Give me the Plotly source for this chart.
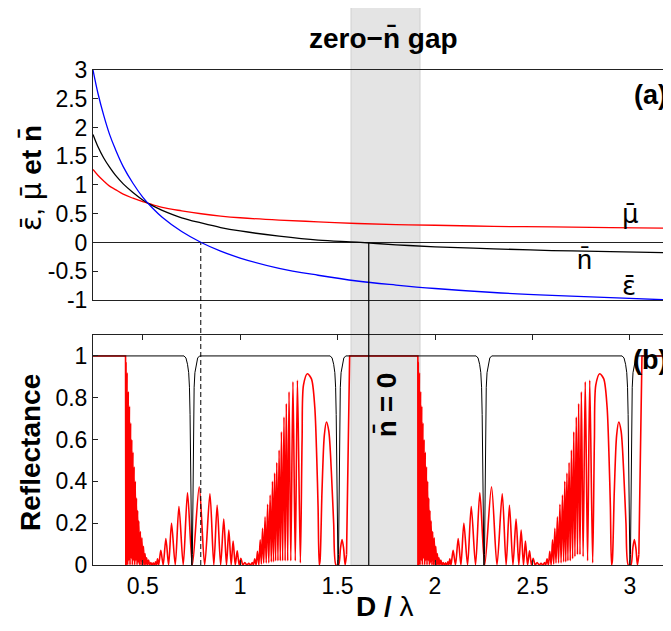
import plotly.graph_objects as go

# ---------------- data ----------------
x_top = [0.245, 0.27, 0.30, 0.33, 0.36, 0.40, 0.45, 0.50, 0.55, 0.60, 0.70, 0.80, 0.90, 1.00,
         1.20, 1.40, 1.60, 1.80, 2.00, 2.30, 2.60, 2.90, 3.21]
eps_bar = [3.00, 2.60, 2.21, 1.88, 1.62, 1.32, 1.03, 0.79, 0.60, 0.44, 0.19, 0.00, -0.15, -0.27,
           -0.45, -0.57, -0.67, -0.74, -0.80, -0.87, -0.92, -0.96, -1.00]
mu_bar = [1.27, 1.17, 1.07, 0.98, 0.92, 0.84, 0.77, 0.71, 0.66, 0.61, 0.55, 0.50, 0.46, 0.43,
          0.39, 0.36, 0.33, 0.31, 0.30, 0.28, 0.27, 0.26, 0.25]
n_bar = [1.88, 1.67, 1.47, 1.31, 1.17, 1.02, 0.87, 0.74, 0.64, 0.56, 0.43, 0.34, 0.26, 0.20,
         0.11, 0.04, 0.005, -0.04, -0.075, -0.11, -0.14, -0.16, -0.18]

# red reflectance: total-reflection plateaus and their steep edges
refl_red_edge_x = [0.245, 0.412, 0.4135, None,
                   1.546, 1.551, 1.562, 1.912, 1.9135, None,
                   3.046, 3.051, 3.062, 3.25]
refl_red_edge_y = [1.0, 1.0, 0.0, None,
                   0.05, 0.39, 1.0, 1.0, 0.0, None,
                   0.05, 0.39, 1.0, 1.0]

# red reflectance: oscillating pass-band parts
refl_red_osc_x = [
    0.4135, 0.414, 0.417, 0.420, 0.423, 0.426, 0.429, 0.432, 0.435, 0.438, 0.441,
    0.444, 0.447, 0.450, 0.453, 0.456, 0.459, 0.462, 0.465, 0.468, 0.471, 0.474, 0.477, 0.480,
    0.484, 0.488, 0.492, 0.496, 0.500, 0.504, 0.508, 0.512, 0.516, 0.520, 0.525, 0.530, 0.536,
    0.542, 0.548, 0.554, 0.560, 0.566, 0.571, 0.576, 0.582, 0.593, 0.605, 0.619, 0.633, 0.648,
    0.667, 0.686, 0.708, 0.730, 0.755, 0.790, 0.818, 0.845, 0.865, 0.882, 0.900, 0.916, 0.930,
    0.942, 0.954, 0.964, 0.975, 0.985, 0.995, 1.004, 1.014, 1.024, 1.034, 1.044, 1.054, 1.062,
    1.068, 1.075, 1.082, 1.089, 1.096, 1.103, 1.109, 1.115, 1.121, 1.128, 1.134, 1.141, 1.147,
    1.154, 1.160, 1.166, 1.171, 1.177, 1.182, 1.188, 1.194, 1.200, 1.206, 1.212, 1.218, 1.225,
    1.231, 1.237, 1.244, 1.251, 1.260, 1.271, 1.283, 1.294, 1.309, 1.318, 1.325, 1.345, 1.366,
    1.383, 1.393, 1.400, 1.406, 1.410, 1.420, 1.432, 1.443, 1.455, 1.468, 1.480, 1.492, 1.505,
    1.515, 1.523, 1.531, 1.539, 1.546, None,
    1.9135, 1.914, 1.917, 1.920, 1.923, 1.926, 1.929, 1.932, 1.935, 1.938, 1.941,
    1.944, 1.947, 1.950, 1.953, 1.956, 1.959, 1.962, 1.965, 1.968, 1.971, 1.974, 1.977, 1.980,
    1.984, 1.988, 1.992, 1.996, 2.000, 2.004, 2.008, 2.012, 2.016, 2.020, 2.025, 2.030, 2.036,
    2.042, 2.048, 2.054, 2.060, 2.066, 2.071, 2.076, 2.082, 2.093, 2.105, 2.119, 2.133, 2.148,
    2.167, 2.186, 2.208, 2.230, 2.255, 2.290, 2.318, 2.345, 2.365, 2.382, 2.400, 2.416, 2.430,
    2.442, 2.454, 2.464, 2.475, 2.485, 2.495, 2.504, 2.514, 2.524, 2.534, 2.544, 2.554, 2.562,
    2.568, 2.575, 2.582, 2.589, 2.596, 2.603, 2.609, 2.615, 2.621, 2.628, 2.634, 2.641, 2.647,
    2.654, 2.660, 2.666, 2.671, 2.677, 2.682, 2.688, 2.694, 2.700, 2.706, 2.712, 2.718, 2.725,
    2.731, 2.737, 2.744, 2.751, 2.760, 2.771, 2.783, 2.794, 2.809, 2.818, 2.825, 2.845, 2.866,
    2.883, 2.893, 2.900, 2.906, 2.910, 2.920, 2.932, 2.943, 2.955, 2.968, 2.980, 2.992, 3.005,
    3.015, 3.023, 3.031, 3.039, 3.046]
refl_red_osc_y = [
    0.0, 0.97, 0.0, 0.92, 0.0, 0.83, 0.02, 0.76, 0.0, 0.68, 0.03,
    0.60, 0.0, 0.54, 0.02, 0.47, 0.0, 0.40, 0.02, 0.32, 0.0, 0.26, 0.01, 0.21,
    0.0, 0.16, 0.0, 0.13, 0.0, 0.09, 0.0, 0.055, 0.0, 0.035, 0.0, 0.024, 0.0,
    0.012, 0.0, 0.01, 0.0, 0.015, 0.0, 0.03, 0.0, 0.07, 0.0, 0.127, 0.0, 0.20,
    0.0, 0.28, 0.0, 0.345, 0.0, 0.374, 0.0, 0.34, 0.0, 0.286, 0.0, 0.22, 0.0,
    0.167, 0.0, 0.115, 0.0, 0.068, 0.0, 0.032, 0.0, 0.012, 0.0, 0.008, 0.0, 0.012,
    0.0, 0.03, 0.0, 0.065, 0.0, 0.12, 0.005, 0.175, 0.01, 0.23, 0.01, 0.29, 0.01,
    0.335, 0.015, 0.40, 0.015, 0.44, 0.02, 0.49, 0.02, 0.55, 0.02, 0.637, 0.02, 0.708,
    0.02, 0.772, 0.02, 0.828, 0.02, 0.876, 0.02, 0.883, 0.01, 0.60, 0.86, 0.915, 0.89,
    0.756, 0.517, 0.278, 0.0, 0.02, 0.35, 0.62, 0.684, 0.64, 0.45, 0.20, 0.0, 0.0,
    0.08, 0.122, 0.08, 0.0, 0.05, None,
    0.0, 0.97, 0.0, 0.92, 0.0, 0.83, 0.02, 0.76, 0.0, 0.68, 0.03,
    0.60, 0.0, 0.54, 0.02, 0.47, 0.0, 0.40, 0.02, 0.32, 0.0, 0.26, 0.01, 0.21,
    0.0, 0.16, 0.0, 0.13, 0.0, 0.09, 0.0, 0.055, 0.0, 0.035, 0.0, 0.024, 0.0,
    0.012, 0.0, 0.01, 0.0, 0.015, 0.0, 0.03, 0.0, 0.07, 0.0, 0.127, 0.0, 0.20,
    0.0, 0.28, 0.0, 0.345, 0.0, 0.374, 0.0, 0.34, 0.0, 0.286, 0.0, 0.22, 0.0,
    0.167, 0.0, 0.115, 0.0, 0.068, 0.0, 0.032, 0.0, 0.012, 0.0, 0.008, 0.0, 0.012,
    0.0, 0.03, 0.0, 0.065, 0.0, 0.12, 0.005, 0.175, 0.01, 0.23, 0.01, 0.29, 0.01,
    0.335, 0.015, 0.40, 0.015, 0.44, 0.02, 0.49, 0.02, 0.55, 0.03, 0.637, 0.04, 0.708,
    0.05, 0.772, 0.05, 0.828, 0.04, 0.876, 0.02, 0.883, 0.01, 0.60, 0.86, 0.915, 0.89,
    0.756, 0.517, 0.278, 0.0, 0.02, 0.35, 0.62, 0.684, 0.64, 0.45, 0.20, 0.0, 0.0,
    0.08, 0.122, 0.08, 0.0, 0.05]

refl_black_x = [
    0.245, 0.712, 0.722, 0.730, 0.736, 0.740, 0.743, 0.745, 0.747, 0.749, 0.752,
    0.755, 0.757, 0.759, 0.761, 0.764, 0.768, 0.774, 0.782, 0.792,
    1.462, 1.472, 1.480, 1.486, 1.490, 1.493, 1.495, 1.497, 1.499, 1.502,
    1.505, 1.507, 1.509, 1.511, 1.514, 1.518, 1.524, 1.532, 1.542,
    2.211, 2.221, 2.229, 2.235, 2.239, 2.242, 2.244, 2.246, 2.248, 2.251,
    2.254, 2.256, 2.258, 2.260, 2.263, 2.267, 2.273, 2.281, 2.291,
    2.960, 2.970, 2.978, 2.984, 2.988, 2.991, 2.993, 2.995, 2.997, 3.000,
    3.003, 3.005, 3.007, 3.009, 3.012, 3.016, 3.022, 3.030, 3.040, 3.25]
refl_black_y = [
    1.0, 1.0, 0.99, 0.96, 0.92, 0.85, 0.72, 0.53, 0.28, 0.05, 0.0,
    0.05, 0.28, 0.53, 0.72, 0.85, 0.92, 0.96, 0.99, 1.0,
    1.0, 0.99, 0.96, 0.92, 0.85, 0.72, 0.53, 0.28, 0.05, 0.0,
    0.05, 0.28, 0.53, 0.72, 0.85, 0.92, 0.96, 0.99, 1.0,
    1.0, 0.99, 0.96, 0.92, 0.85, 0.72, 0.53, 0.28, 0.05, 0.0,
    0.05, 0.28, 0.53, 0.72, 0.85, 0.92, 0.96, 0.99, 1.0,
    1.0, 0.99, 0.96, 0.92, 0.85, 0.72, 0.53, 0.28, 0.05, 0.0,
    0.05, 0.28, 0.53, 0.72, 0.85, 0.92, 0.96, 0.99, 1.0, 1.0]

x_ticks = [0.5, 1, 1.5, 2, 2.5, 3]
x_ticktext = ["0.5", "1", "1.5", "2", "2.5", "3"]
y_top_ticks = [-1, -0.5, 0, 0.5, 1, 1.5, 2, 2.5, 3]
y_top_ticktext = ["-1", "-0.5", "0", "0.5", "1", "1.5", "2", "2.5", "3"]
y_bot_ticks = [0, 0.2, 0.4, 0.6, 0.8, 1]
y_bot_ticktext = ["0", "0.2", "0.4", "0.6", "0.8", "1"]

gap_band = [1.569, 1.923]
n_zero_x = 1.66
eps_zero_x = 0.798
x_range = [0.245, 3.211]

# ---------------- figure ----------------
FONT = "Liberation Sans, Arial, Helvetica, sans-serif"
MAC = "\u0304"
GREEK = '<span style="font-family:DejaVu Sans">{}</span>'

fig = go.Figure()

fig.add_trace(go.Scatter(x=x_top, y=mu_bar, mode="lines", line=dict(color="#ff0000", width=1.3, shape="spline"),
                         xaxis="x2", yaxis="y2", showlegend=False))
fig.add_trace(go.Scatter(x=x_top, y=n_bar, mode="lines", line=dict(color="#000000", width=1.3, shape="spline"),
                         xaxis="x2", yaxis="y2", showlegend=False))
fig.add_trace(go.Scatter(x=x_top, y=eps_bar, mode="lines", line=dict(color="#0000ff", width=1.3, shape="spline"),
                         xaxis="x2", yaxis="y2", showlegend=False))

fig.add_trace(go.Scatter(x=refl_red_edge_x, y=refl_red_edge_y, mode="lines",
                         line=dict(color="#ff0000", width=1.6), connectgaps=False,
                         xaxis="x", yaxis="y", showlegend=False))
fig.add_trace(go.Scatter(x=refl_red_osc_x, y=refl_red_osc_y, mode="lines",
                         line=dict(color="#ff0000", width=1.6, shape="spline", smoothing=0.8),
                         connectgaps=False, xaxis="x", yaxis="y", showlegend=False))
fig.add_trace(go.Scatter(x=refl_black_x, y=refl_black_y, mode="lines",
                         line=dict(color="#000000", width=1.0),
                         xaxis="x", yaxis="y", showlegend=False))

axis_common = dict(showline=True, linecolor="#222222", linewidth=1, showgrid=False,
                   tickfont=dict(family=FONT, size=23, color="black"),
                   ticks="inside", ticklen=5, tickcolor="#222222")

# the page body adds an 8 px offset, so the figure is 8 px smaller than the window
fig.update_layout(
    width=663, height=623,
    margin=dict(l=85, r=0, t=62, b=66),
    paper_bgcolor="white", plot_bgcolor="rgba(0,0,0,0)",
    font=dict(family=FONT, color="black"),
    xaxis=dict(domain=[0, 1], anchor="y", range=x_range, tickvals=x_ticks, ticktext=x_ticktext,
               mirror="ticks", zeroline=False, **axis_common),
    yaxis=dict(domain=[0, 0.4646], anchor="x", range=[0, 1.1], tickvals=y_bot_ticks,
               ticktext=y_bot_ticktext, zeroline=False, **axis_common),
    xaxis2=dict(domain=[0, 1], anchor="y2", range=x_range, showticklabels=False, ticks="",
                showline=True, linecolor="#222222", linewidth=1, mirror=True, showgrid=False,
                zeroline=False),
    yaxis2=dict(domain=[0.5354, 1], anchor="x2", range=[-1, 3], tickvals=y_top_ticks,
                ticktext=y_top_ticktext, zeroline=True, zerolinecolor="#222222", zerolinewidth=1,
                **axis_common),
)

# zero-n gap band
fig.add_shape(type="rect", xref="x", yref="paper", x0=gap_band[0], x1=gap_band[1], y0=0, y1=1.131,
              fillcolor="#e4e4e4", line=dict(color="#d0d0d0", width=1), layer="below")
# vertical markers
fig.add_shape(type="line", xref="x", yref="paper", x0=n_zero_x, x1=n_zero_x, y0=0, y1=0.6515,
              line=dict(color="black", width=1.2))
fig.add_shape(type="line", xref="x", yref="paper", x0=eps_zero_x, x1=eps_zero_x, y0=0, y1=0.6515,
              line=dict(color="black", width=1, dash="5px,3px"))

def ann(text, x, y, xref="paper", yref="paper", size=28, angle=0, xanchor="center", yanchor="middle"):
    fig.add_annotation(text=text, x=x, y=y, xref=xref, yref=yref, showarrow=False,
                       font=dict(family=FONT, size=size, color="black"), textangle=angle,
                       xanchor=xanchor, yanchor=yanchor, borderpad=0)

eps_s = GREEK.format("\u03b5" + MAC)
mu_s = GREEK.format("\u03bc" + MAC)

ann("<b>zero\u2212n" + MAC + " gap</b>", 0.502, 1.0646)
ann(eps_s + ", " + mu_s + " <b>et n" + MAC + "</b>", -0.1073, 0.7818, angle=-90)
ann("<b>Reflectance</b>", -0.1073, 0.2283, angle=-90)
ann("<b>D /</b> \u03bb", 0.505, -0.0848)
ann("<b>n" + MAC + " = 0</b>", 1.749, 0.323, xref="x", angle=-90)
ann("<b>(a)</b>", 0.934, 0.9495, xanchor="left", size=27)
ann("<b>(b)</b>", 0.933, 0.414, xanchor="left", size=27)
ann(mu_s, 3.003, 0.50, xref="x2", yref="y2", size=26)
ann("n" + MAC, 2.769, -0.313, xref="x2", yref="y2", size=27)
ann(eps_s, 2.997, -0.765, xref="x2", yref="y2", size=26)

fig.write_html("out.html")
